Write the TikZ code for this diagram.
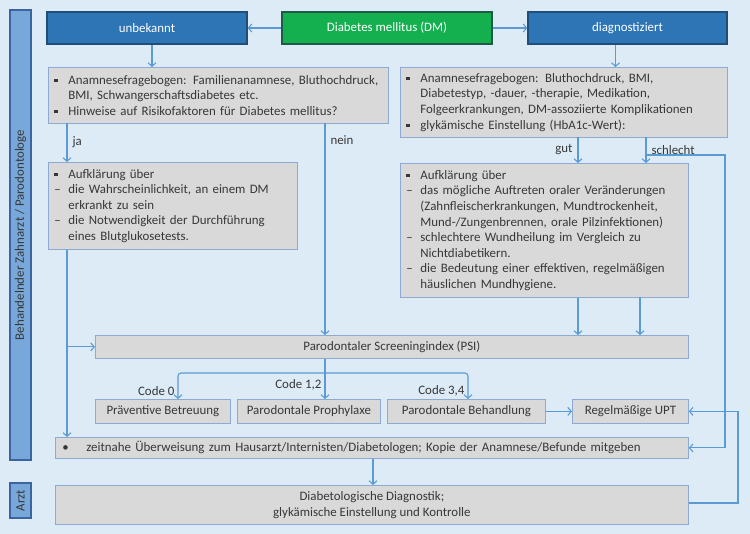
\documentclass[tikz,border=0pt]{standalone}
\usepackage{fontspec}
\setmainfont{Carlito}
\usetikzlibrary{arrows.meta,positioning}

\definecolor{bgblue}{RGB}{221,235,247}
\definecolor{linkblue}{RGB}{91,155,213}
\definecolor{headblue}{RGB}{46,117,182}
\definecolor{headborder}{RGB}{31,78,121}
\definecolor{dmgreen}{RGB}{20,176,80}
\definecolor{dmborder}{RGB}{30,90,70}
\definecolor{boxgray}{RGB}{217,217,217}
\definecolor{boxborder}{RGB}{143,170,210}
\definecolor{sideblue}{RGB}{120,168,218}
\definecolor{sideborder}{RGB}{60,100,160}
\definecolor{textgray}{RGB}{55,55,55}

\newcommand{\bul}{\makebox[14pt][l]{\rule[2pt]{3.4pt}{3.4pt}}}
\newcommand{\dsh}{\makebox[14pt][l]{--}}
\newcommand{\ind}{\hspace*{14pt}}

\begin{document}
\begin{tikzpicture}
	[x=1pt,y=-1pt,->,>={Straight Barb[length=3.5pt,width=8pt]},
		line width=1.1pt,draw=linkblue,
		every node/.style={font=\fontsize{12.9}{15.6}\selectfont,text=textgray},
		head node/.style={draw=headborder,fill=headblue,line width=1.2pt,text=white,minimum height=32pt,inner sep=0pt},
		dm node/.style={head node,draw=dmborder,fill=dmgreen},
		info node/.style={draw=boxborder,fill=boxgray,line width=0.8pt,anchor=north west,align=left,inner xsep=6pt,inner ysep=3pt},
		step node/.style={draw=boxborder,fill=boxgray,line width=0.8pt,anchor=north west,minimum height=24pt,inner sep=0pt},
		side node/.style={draw=sideborder,fill=sideblue,line width=1.2pt,rotate=90,minimum height=21pt,inner sep=0pt},
		edge label/.style={inner sep=1pt}]

	\fill[bgblue,-] (0,0) rectangle (750,534);

	% Zustaendigkeit
	\node[side node,minimum width=450pt] (zahnarzt) at (20.5,235) {Behandelnder Zahnarzt / Parodontologe};
	\node[side node,minimum width=35pt]  (arzt)     at (20.5,500.5) {Arzt};

	% Kopfzeile
	\node[dm node,minimum width=210pt]   (dm)        at (387,28)   {Diabetes mellitus (DM)};
	\node[head node,minimum width=200pt] (unbekannt) at (147,28)   {unbekannt};
	\node[head node,minimum width=199pt] (diag)      at (627.5,28) {diagnostiziert};

	% Anamnese
	\node[info node,text width=328pt,minimum height=56pt] (anam1) at (48,67)
		{\bul Anamnesefragebogen: Familienanamnese, Bluthochdruck,\\
		\ind BMI, Schwangerschaftsdiabetes etc.\\
		\bul Hinweise auf Risikofaktoren f\"ur Diabetes mellitus?};
	\node[info node,text width=315pt,minimum height=70pt] (anam2) at (400,67)
		{\bul Anamnesefragebogen: Bluthochdruck, BMI,\\
		\ind Diabetestyp, -dauer, -therapie, Medikation,\\
		\ind Folgeerkrankungen, DM-assoziierte Komplikationen\\
		\bul glyk\"amische Einstellung (HbA1c-Wert):};

	% Aufklaerung
	\node[info node,text width=237pt,minimum height=87pt] (info1) at (48,162)
		{\bul Aufkl\"arung \"uber\\
		\dsh die Wahrscheinlichkeit, an einem DM\\
		\ind erkrankt zu sein\\
		\dsh die Notwendigkeit der Durchf\"uhrung\\
		\ind eines Blutglukosetests.};
	\node[info node,text width=276pt,minimum height=134pt] (info2) at (400,163)
		{\bul Aufkl\"arung \"uber\\
		\dsh das m\"ogliche Auftreten oraler Ver\"anderungen\\
		\ind (Zahnfleischerkrankungen, Mundtrockenheit,\\
		\ind Mund-/Zungenbrennen, orale Pilzinfektionen)\\
		\dsh schlechtere Wundheilung im Vergleich zu\\
		\ind Nichtdiabetikern.\\
		\dsh die Bedeutung einer effektiven, regelm\"a\ss igen\\
		\ind h\"auslichen Mundhygiene.};

	% PSI und Therapie
	\node[step node,minimum width=593pt,minimum height=23pt] (psi) at (95,335) {Parodontaler Screeningindex (PSI)};
	\node[step node,minimum width=135pt] (prav)   at (95,399)  {Pr\"aventive Betreuung};
	\node[step node,minimum width=143pt] (proph)  at (237,399) {Parodontale Prophylaxe};
	\node[step node,minimum width=158pt] (behand) at (387,399) {Parodontale Behandlung};
	\node[step node,minimum width=116pt] (upt)    at (572,399) {Regelm\"a\ss ige UPT};

	% Ueberweisung
	\node[step node,minimum width=633pt,minimum height=21pt,align=left,text width=619pt,inner xsep=7pt] (zeit) at (55,437)
		{\makebox[24pt][l]{\textbullet}zeitnahe \"Uberweisung zum Hausarzt/Internisten/Diabetologen; Kopie der Anamnese/Befunde mitgeben};
	\node[step node,minimum width=633pt,minimum height=39pt,align=center] (diab) at (55,485)
		{Diabetologische Diagnostik;\\ glyk\"amische Einstellung und Kontrolle};

	% Verzweigungen
	\coordinate (ja)       at (67,123);
	\coordinate (nein)     at (325,123);
	\coordinate (gut)      at (578,137);
	\coordinate (schlecht) at (646,137);
	\coordinate (gut2)     at (640,297);
	\coordinate (loop1)    at (725,155);
	\coordinate (c0)       at (178,373);
	\coordinate (c12)      at (325,373);
	\coordinate (c34)      at (468,373);
	\coordinate (zd)       at (373,458);
	\coordinate (loop2)    at (738,503);

	\path
	(dm.west) edge (unbekannt.east)
	(dm.east) edge (diag.west)
	([xshift=5pt]unbekannt.south) edge ([xshift=5pt]unbekannt.south |- anam1.north)
	([xshift=-12pt]diag.south) edge ([xshift=-12pt]diag.south |- anam2.north)
	(behand.east) edge (upt.west)
	;

	\draw (ja) -- (ja |- info1.north) node[edge label,midway,right=4pt] {ja};
	\draw (nein) -- (nein |- psi.north) node[edge label,pos=0.08,right=4pt] {nein};
	\draw (info1.south -| ja) -- (ja |- zeit.north);
	\draw (ja |- psi.west) -- (psi.west);

	\draw (gut) -- (gut |- info2.north) node[edge label,midway,left=4pt] {gut};
	\draw (schlecht) -- (schlecht |- info2.north) node[edge label,midway,right=4pt] {schlecht};
	\draw (gut |- info2.south) -- (gut |- psi.north);
	\draw (gut2) -- (gut2 |- psi.north);
	\draw (schlecht |- loop1) -- (loop1) -- (loop1 |- zeit.east) -- (zeit.east);

	\draw (psi.south -| c12) -- (c12 |- proph.north) node[edge label,pos=0.65,left=2pt] {Code 1,2};
	\draw[rounded corners=3pt] (c12) -- (c0) -- (c0 |- prav.north) node[edge label,pos=0.7,left=2pt] {Code 0};
	\draw[rounded corners=3pt] (c12) -- (c34) -- (c34 |- behand.north) node[edge label,pos=0.7,left=2pt] {Code 3,4};

	\draw (zeit.south -| zd) -- (zd |- diab.north);
	\draw (diab.east |- loop2) -- (loop2) -- (loop2 |- upt.east) -- (upt.east);

\end{tikzpicture}
\end{document}
